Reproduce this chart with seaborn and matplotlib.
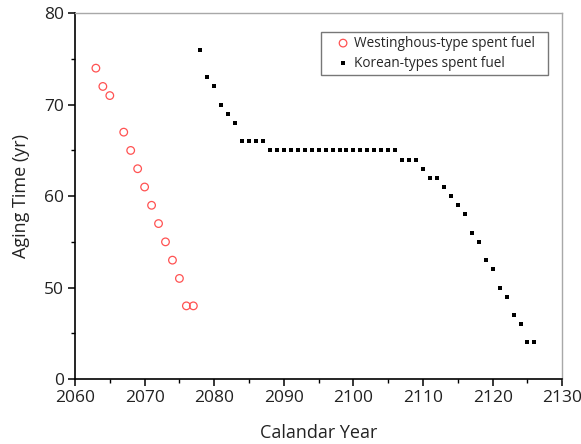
import matplotlib
matplotlib.use("Agg")
import matplotlib.pyplot as plt
from matplotlib.ticker import MultipleLocator
import seaborn as sns
import pandas as pd

# Westinghouse-type spent fuel
west_years = [2063, 2064, 2065, 2067, 2068, 2069, 2070, 2071, 2072, 2073, 2074, 2075, 2076, 2077]
west_aging = [74, 72, 71, 67, 65, 63, 61, 59, 57, 55, 53, 51, 48, 48]

# Korean-types spent fuel
kor_years = list(range(2078, 2127))
kor_aging = ([76, 73, 72, 70, 69, 68, 66, 66, 66, 66]
             + [65] * 19
             + [64, 64, 64, 63, 62, 62, 61, 60, 59, 58, 56, 55, 53, 52, 50, 49, 47, 46, 44, 44])

x_ticks = [2060, 2070, 2080, 2090, 2100, 2110, 2120, 2130]
y_ticks = [40, 50, 60, 70, 80]
y_tick_labels = ["0", "50", "60", "70", "80"]

west = pd.DataFrame({"year": west_years, "aging": west_aging})
kor = pd.DataFrame({"year": kor_years, "aging": kor_aging})

sns.set_theme(style="white")
plt.rcParams["font.family"] = ["Open Sans", "DejaVu Sans"]

fig = plt.figure(figsize=(5.81, 4.44), dpi=100)
ax = fig.add_axes([75 / 581, 1 - 379 / 444, (562.3 - 75) / 581, (379 - 13.3) / 444])

sns.scatterplot(data=west, x="year", y="aging", ax=ax, marker="o", s=30,
                facecolors="none", edgecolor="#ff5252", linewidth=0.9,
                label="Westinghous-type spent fuel")
sns.scatterplot(data=kor, x="year", y="aging", ax=ax, marker="s", s=10,
                color="black", edgecolor="black", linewidth=0,
                label="Korean-types spent fuel")

ax.set_xlim(2060, 2130)
ax.set_ylim(40, 80)
ax.set_xticks(x_ticks)
ax.set_yticks(y_ticks)
ax.set_yticklabels(y_tick_labels)
ax.xaxis.set_minor_locator(MultipleLocator(5))
ax.yaxis.set_minor_locator(MultipleLocator(5))
ax.tick_params(which="major", direction="out", length=5, width=1.1, color="black",
               labelsize=12.5, labelcolor="#222222", bottom=True, left=True, top=False, right=False, pad=3)
ax.tick_params(which="minor", direction="out", length=3, width=1.0, color="black",
               bottom=True, left=True, top=False, right=False)

for s in ["left", "bottom"]:
    ax.spines[s].set_color("black")
    ax.spines[s].set_linewidth(1.2)
for s in ["top", "right"]:
    ax.spines[s].set_color("#a8a8a8")
    ax.spines[s].set_linewidth(1.0)

ax.set_xlabel("Calandar Year", fontsize=13, color="#222222", labelpad=13)
ax.set_ylabel("Aging Time (yr)", fontsize=13, color="#222222", labelpad=10)

leg = ax.legend(loc="upper left", bbox_to_anchor=(0.504, 0.5, 0.466, 0.45), mode="expand",
                borderaxespad=0, fontsize=9.8,
                frameon=True, fancybox=False, edgecolor="#777777", framealpha=1,
                handletextpad=-0.55, borderpad=0.3, labelspacing=0.38, handlelength=2.7)
leg.get_frame().set_linewidth(1.0)

fig.savefig("out.png", dpi=100)
